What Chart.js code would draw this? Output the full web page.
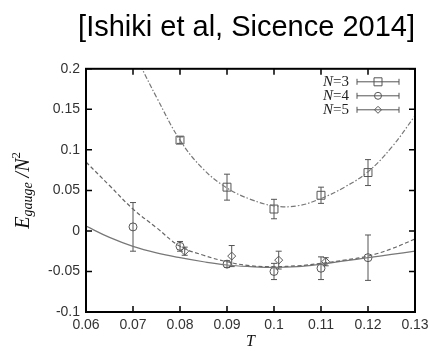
<!DOCTYPE html>
<html>
<head>
<meta charset="utf-8">
<script src="https://cdn.jsdelivr.net/npm/chart.js"></script>
<style>
  html, body { margin: 0; padding: 0; background: #fff; }
  #wrap { width: 428px; height: 351px; position: relative; }
</style>
</head>
<body>
<div id="wrap"><canvas id="energyChart"></canvas></div>
<script>
// ==========================
// DATOS
// ==========================

const titleText = '[Ishiki et al, Sicence 2014]';

const xTicks = [0.06, 0.07, 0.08, 0.09, 0.1, 0.11, 0.12, 0.13];
const xTickLabels = ['0.06', '0.07', '0.08', '0.09', '0.1', '0.11', '0.12', '0.13'];
const yTicks = [-0.1, -0.05, 0, 0.05, 0.1, 0.15, 0.2];
const yTickLabels = ['-0.1', '-0.05', '0', '0.05', '0.1', '0.15', '0.2'];

const seriesNames = ['N=3', 'N=4', 'N=5'];

// N=3 (cuadrados)
const n3T = [0.08, 0.09, 0.1, 0.11, 0.12];
const n3E = [0.112, 0.054, 0.027, 0.044, 0.072];
const n3Err = [0.004, 0.016, 0.012, 0.010, 0.016];

// N=4 (circulos)
const n4T = [0.07, 0.08, 0.09, 0.1, 0.11, 0.12];
const n4E = [0.005, -0.019, -0.041, -0.050, -0.046, -0.033];
const n4Err = [0.030, 0.006, 0.004, 0.010, 0.014, 0.028];

// N=5 (rombos)
const n5T = [0.081, 0.091, 0.101, 0.111];
const n5E = [-0.025, -0.031, -0.036, -0.038];
const n5Err = [0.005, 0.013, 0.011, 0.005];

// curvas de ajuste
const fit3T = [0.0715, 0.075, 0.08, 0.085, 0.09, 0.095, 0.1, 0.105, 0.11, 0.115, 0.12, 0.125, 0.13];
const fit3E = [0.205, 0.165, 0.112, 0.076, 0.053, 0.039, 0.031, 0.031, 0.040, 0.054, 0.073, 0.103, 0.142];

const fitT = [0.06, 0.065, 0.07, 0.075, 0.08, 0.085, 0.09, 0.095, 0.1, 0.105, 0.11, 0.115, 0.12, 0.125, 0.13];
const fit4E = [0.085, 0.056, 0.027, 0.004, -0.019, -0.030, -0.038, -0.043, -0.044, -0.043, -0.040, -0.036, -0.031, -0.022, -0.010];
const fit5E = [0.006, -0.008, -0.019, -0.027, -0.033, -0.038, -0.042, -0.044, -0.045, -0.044, -0.041, -0.037, -0.033, -0.029, -0.025];

const toPoints = (xs, ys) => xs.map((x, i) => ({ x: x, y: ys[i] }));

const markerColor = '#555';

// ==========================
// PLUGIN: barras de error, marco, ticks, leyenda, titulo Y
// ==========================

function drawMarker(ctx, style, x, y, r) {
    ctx.beginPath();
    if (style === 'rect') {
        ctx.rect(x - r, y - r, 2 * r, 2 * r);
    } else if (style === 'circle') {
        ctx.arc(x, y, r, 0, Math.PI * 2);
    } else {
        ctx.moveTo(x, y - r);
        ctx.lineTo(x + r, y);
        ctx.lineTo(x, y + r);
        ctx.lineTo(x - r, y);
        ctx.closePath();
    }
    ctx.stroke();
}

const gnuplotPlugin = {
    id: 'gnuplotPlugin',

    beforeDatasetsDraw(chart) {
        const ctx = chart.ctx;
        const xs = chart.scales.x;
        const ys = chart.scales.y;
        ctx.save();
        ctx.strokeStyle = markerColor;
        ctx.lineWidth = 1;
        chart.data.datasets.forEach((ds) => {
            if (!ds.errs) return;
            ds.data.forEach((p, j) => {
                const px = xs.getPixelForValue(p.x);
                const top = ys.getPixelForValue(p.y + ds.errs[j]);
                const bot = ys.getPixelForValue(p.y - ds.errs[j]);
                ctx.beginPath();
                ctx.moveTo(px, top);
                ctx.lineTo(px, bot);
                ctx.moveTo(px - 3, top);
                ctx.lineTo(px + 3, top);
                ctx.moveTo(px - 3, bot);
                ctx.lineTo(px + 3, bot);
                ctx.stroke();
            });
        });
        ctx.restore();
    },

    afterDraw(chart) {
        const ctx = chart.ctx;
        const area = chart.chartArea;
        const xs = chart.scales.x;
        const ys = chart.scales.y;

        ctx.save();

        // ticks hacia dentro en los cuatro lados
        ctx.strokeStyle = '#000';
        ctx.lineWidth = 1.5;
        ctx.beginPath();
        xTicks.forEach((v) => {
            const px = xs.getPixelForValue(v);
            ctx.moveTo(px, area.bottom);
            ctx.lineTo(px, area.bottom - 6);
            ctx.moveTo(px, area.top);
            ctx.lineTo(px, area.top + 6);
        });
        yTicks.forEach((v) => {
            const py = ys.getPixelForValue(v);
            ctx.moveTo(area.left, py);
            ctx.lineTo(area.left + 6, py);
            ctx.moveTo(area.right, py);
            ctx.lineTo(area.right - 6, py);
        });
        ctx.stroke();

        // marco
        ctx.lineWidth = 2;
        ctx.strokeRect(area.left, area.top, area.right - area.left, area.bottom - area.top);

        // leyenda
        const styles = ['rect', 'circle', 'rectRot'];
        const sizes = [4, 3.5, 3.5];
        seriesNames.forEach((name, i) => {
            const y = area.top + 13 + i * 14;
            const textRight = area.right - 66;
            const num = name.slice(1);
            ctx.textBaseline = 'middle';
            ctx.textAlign = 'left';
            ctx.fillStyle = '#222';
            ctx.font = '15px "Liberation Serif", serif';
            const wNum = ctx.measureText(num).width;
            ctx.fillText(num, textRight - wNum, y);
            ctx.font = 'italic 15px "Liberation Serif", serif';
            const wN = ctx.measureText('N').width;
            ctx.fillText('N', textRight - wNum - wN, y);

            const x1 = area.right - 58;
            const x2 = area.right - 16;
            ctx.strokeStyle = markerColor;
            ctx.lineWidth = 1;
            ctx.beginPath();
            ctx.moveTo(x1, y);
            ctx.lineTo(x2, y);
            ctx.moveTo(x1, y - 3);
            ctx.lineTo(x1, y + 3);
            ctx.moveTo(x2, y - 3);
            ctx.lineTo(x2, y + 3);
            ctx.stroke();
            ctx.fillStyle = '#fff';
            const mx = (x1 + x2) / 2;
            drawMarker(ctx, styles[i], mx, y, sizes[i]);
        });

        // titulo del eje Y: E_gauge /N^2
        const cy = (area.top + area.bottom) / 2;
        ctx.translate(29, cy);
        ctx.rotate(-Math.PI / 2);
        ctx.fillStyle = '#111';
        ctx.textAlign = 'left';
        ctx.textBaseline = 'alphabetic';
        const parts = [
            { t: 'E', f: 'italic 20px "Liberation Serif", serif', dy: 0 },
            { t: 'gauge', f: 'italic 14px "Liberation Serif", serif', dy: 3 },
            { t: ' /N', f: 'italic 20px "Liberation Serif", serif', dy: 0 },
            { t: '2', f: '13px "Liberation Serif", serif', dy: -9 }
        ];
        let total = 0;
        parts.forEach((p) => { ctx.font = p.f; p.w = ctx.measureText(p.t).width; total += p.w; });
        let cx = -total / 2;
        parts.forEach((p) => {
            ctx.font = p.f;
            ctx.fillText(p.t, cx, p.dy);
            cx += p.w;
        });

        ctx.restore();
    }
};

// ==========================
// GRAFICO
// ==========================

const energyCtx = document.getElementById('energyChart');

new Chart(energyCtx, {

    type: 'scatter',

    data: {

        datasets: [

            {
                label: 'fit N=3',
                data: toPoints(fit3T, fit3E),
                showLine: true,
                pointRadius: 0,
                borderColor: '#777',
                borderWidth: 1.2,
                borderDash: [5, 2, 1.5, 2],
                tension: 0.4
            },

            {
                label: 'fit N=4',
                data: toPoints(fitT, fit4E),
                showLine: true,
                pointRadius: 0,
                borderColor: '#666',
                borderWidth: 1.2,
                borderDash: [4, 2.5],
                tension: 0.4
            },

            {
                label: 'fit N=5',
                data: toPoints(fitT, fit5E),
                showLine: true,
                pointRadius: 0,
                borderColor: '#777',
                borderWidth: 1.2,
                tension: 0.4
            },

            {
                label: seriesNames[0],
                data: toPoints(n3T, n3E),
                errs: n3Err,
                pointStyle: 'rect',
                pointRadius: 5.6,
                pointBorderWidth: 1,
                pointBorderColor: markerColor,
                pointBackgroundColor: 'rgba(0,0,0,0)'
            },

            {
                label: seriesNames[1],
                data: toPoints(n4T, n4E),
                errs: n4Err,
                pointStyle: 'circle',
                pointRadius: 4,
                pointBorderWidth: 1,
                pointBorderColor: markerColor,
                pointBackgroundColor: 'rgba(0,0,0,0)'
            },

            {
                label: seriesNames[2],
                data: toPoints(n5T, n5E),
                errs: n5Err,
                pointStyle: 'rectRot',
                pointRadius: 4,
                pointBorderWidth: 1,
                pointBorderColor: markerColor,
                pointBackgroundColor: 'rgba(0,0,0,0)'
            }

        ]

    },

    options: {

        responsive: true,

        maintainAspectRatio: false,

        animation: false,

        layout: {
            padding: { left: 0, right: 13, top: 0, bottom: 0 }
        },

        plugins: {

            legend: { display: false },

            tooltip: { enabled: false },

            title: {
                display: true,
                text: titleText,
                fullSize: true,
                align: 'end',
                color: '#000',
                font: { family: '"Liberation Sans", Arial, sans-serif', size: 29, weight: 'normal', lineHeight: 1.2 },
                padding: { top: 11, bottom: 23 }
            }

        },

        scales: {

            x: {
                type: 'linear',
                min: 0.06,
                max: 0.13,
                afterBuildTicks: (scale) => { scale.ticks = xTicks.map((v) => ({ value: v })); },
                afterFit: (scale) => { scale.height = 39; scale.paddingLeft = 0; scale.paddingRight = 0; },
                grid: { display: false, drawTicks: false },
                border: { display: false },
                ticks: {
                    padding: 5,
                    color: '#333',
                    maxRotation: 0,
                    font: { family: '"Liberation Sans", Arial, sans-serif', size: 14 },
                    callback: (v) => xTickLabels[xTicks.findIndex((t) => Math.abs(t - v) < 1e-9)]
                },
                title: {
                    display: true,
                    text: 'T',
                    color: '#111',
                    padding: 0,
                    font: { family: '"Liberation Serif", serif', style: 'italic', size: 16 }
                }
            },

            y: {
                type: 'linear',
                min: -0.1,
                max: 0.2,
                afterBuildTicks: (scale) => { scale.ticks = yTicks.map((v) => ({ value: v })); },
                afterFit: (scale) => { scale.width = 86; scale.paddingTop = 0; scale.paddingBottom = 0; },
                grid: { display: false, drawTicks: false },
                border: { display: false },
                ticks: {
                    padding: 6,
                    color: '#333',
                    font: { family: '"Liberation Sans", Arial, sans-serif', size: 14 },
                    callback: (v) => yTickLabels[yTicks.findIndex((t) => Math.abs(t - v) < 1e-9)]
                }
            }

        }

    },

    plugins: [gnuplotPlugin]

});
</script>
</body>
</html>
